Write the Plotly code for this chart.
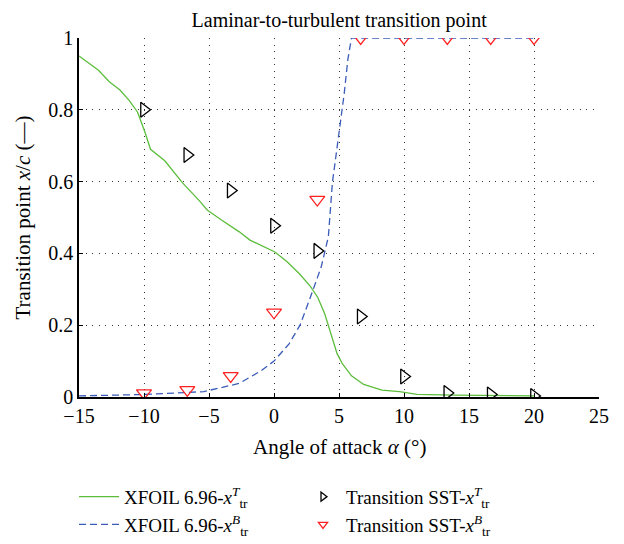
import plotly.graph_objects as go

# XFOIL 6.96 x_tr^T (upper surface)
xfoil_T_alpha = [-15, -13.5, -12.67, -11.85, -11.16, -10.5, -9.93, -9.5, -8.4, -7.05, -5.7, -5.14, -4.04,
                 -2.67, -1.85, -1.04, 0.07, 1.03, 1.99, 2.8, 3.36, 3.9, 4.45, 4.86, 5.27, 5.96, 6.9,
                 8.3, 9.66, 11.0, 13.8, 20]
xfoil_T_val = [0.95, 0.91, 0.878, 0.855, 0.827, 0.794, 0.738, 0.69, 0.658, 0.597, 0.545, 0.521, 0.493,
               0.46, 0.437, 0.423, 0.404, 0.376, 0.342, 0.308, 0.278, 0.232, 0.166, 0.12, 0.092, 0.059, 0.035,
               0.019, 0.015, 0.0075, 0.005, 0.003]

# XFOIL 6.96 x_tr^B (lower surface)
xfoil_B_alpha = [-15, -10, -5.4, -2.67, -1, 0, 1.16, 2, 2.8, 3.63, 4.18, 4.5, 4.65, 5.14, 5.4, 5.68, 5.96, 20]
xfoil_B_val = [0.003, 0.007, 0.015, 0.038, 0.073, 0.10, 0.148, 0.2, 0.278, 0.362, 0.446, 0.6, 0.64, 0.77,
               0.845, 0.94, 1.0, 1.0]

# Transition SST
sst_alpha = [-10, -6.67, -3.33, 0, 3.33, 6.67, 10, 13.33, 16.67, 20]
sst_T_val = [0.80, 0.674, 0.575, 0.477, 0.407, 0.224, 0.057, 0.011, 0.007, 0.003]
sst_B_val = [0.011, 0.02, 0.059, 0.236, 0.55, 1.0, 1.0, 1.0, 1.0, 1.0]

x_ticks = [-15, -10, -5, 0, 5, 10, 15, 20, 25]
y_ticks = [0, 0.2, 0.4, 0.6, 0.8, 1]
y_tick_labels = ["0", "0.2", "0.4", "0.6", "0.8", "1"]

names = ["XFOIL 6.96-<i>x</i><sup><i>T</i></sup><sub>tr</sub>",
         "XFOIL 6.96-<i>x</i><sup><i>B</i></sup><sub>tr</sub>",
         "Transition SST-<i>x</i><sup><i>T</i></sup><sub>tr</sub>",
         "Transition SST-<i>x</i><sup><i>B</i></sup><sub>tr</sub>"]

FONT = "Liberation Serif"
GREEN = "#5cbd3c"
BLUE = "#3a5cb8"
RED = "#ff2020"

fig = go.Figure()
fig.add_trace(go.Scatter(
    x=xfoil_T_alpha, y=xfoil_T_val, mode="lines",
    line=dict(color=GREEN, width=1.3), name=names[0], legend="legend"))
fig.add_trace(go.Scatter(
    x=xfoil_B_alpha, y=xfoil_B_val, mode="lines",
    line=dict(color=BLUE, width=1.3, dash="7px,4px"), name=names[1], legend="legend"))
fig.add_trace(go.Scatter(
    x=sst_alpha, y=sst_T_val, mode="markers", showlegend=False,
    marker=dict(symbol="triangle-right-open", size=13, color="black", line=dict(width=1.3)),
    name=names[2]))
fig.add_trace(go.Scatter(
    x=sst_alpha, y=sst_B_val, mode="markers", showlegend=False,
    marker=dict(symbol="triangle-down-open", size=13, color=RED, line=dict(width=1.3)),
    name=names[3]))
# legend-only entries with the smaller legend symbols of the reference
fig.add_trace(go.Scatter(
    x=[None], y=[None], mode="markers", name=names[2], legend="legend2",
    marker=dict(symbol="triangle-right-open", size=8, color="black", line=dict(width=1.3))))
fig.add_trace(go.Scatter(
    x=[None], y=[None], mode="markers", name=names[3], legend="legend2",
    marker=dict(symbol="triangle-down-open", size=8, color=RED, line=dict(width=1.3))))

fig.update_layout(
    width=624, height=544,
    margin=dict(l=79, r=25, t=38, b=147, autoexpand=False),
    paper_bgcolor="white", plot_bgcolor="white",
    font=dict(family=FONT, size=19, color="black"),
    title=dict(text="Laminar-to-turbulent transition point", x=0.5435, xanchor="center",
               y=0.963, yanchor="middle", font=dict(size=20)),
    legend=dict(x=-0.0096, y=-0.225, xanchor="left", yanchor="top", bgcolor="rgba(0,0,0,0)",
                font=dict(size=19), tracegroupgap=0, itemwidth=40),
    legend2=dict(x=0.425, y=-0.225, xanchor="left", yanchor="top", bgcolor="rgba(0,0,0,0)",
                 font=dict(size=19), tracegroupgap=0, itemwidth=36),
    showlegend=True,
    annotations=[
        dict(text="Angle of attack <i>α</i> (°)", xref="paper", yref="paper", x=0.5, y=-0.139,
             xanchor="center", yanchor="middle", showarrow=False, font=dict(size=21)),
        dict(text="Transition point <i>x</i>/<i>c</i> (—)", xref="paper", yref="paper", x=-0.1096, y=0.5,
             xanchor="center", yanchor="middle", textangle=-90, showarrow=False, font=dict(size=21)),
    ],
)
fig.update_xaxes(
    range=[-15, 25], tickvals=x_ticks, showline=True, linecolor="black", linewidth=1.5,
    ticks="inside", ticklen=4, tickcolor="black", mirror=False,
    showgrid=True, gridcolor="#333333", griddash="1px,5.5px", gridwidth=1, zeroline=False,
    tickfont=dict(size=20),
)
fig.update_yaxes(
    range=[0, 1], tickvals=y_ticks, ticktext=y_tick_labels, showline=True, linecolor="black", linewidth=1.5,
    ticks="inside", ticklen=4, tickcolor="black",
    showgrid=True, gridcolor="#333333", griddash="1px,5.5px", gridwidth=1, zeroline=False,
    tickfont=dict(size=20),
)

fig.write_html("out.html")
